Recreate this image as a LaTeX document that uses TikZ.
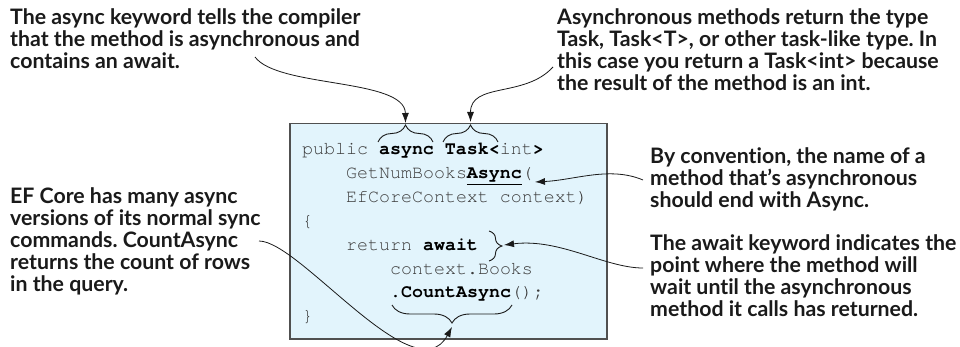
\documentclass[tikz,border=0pt]{standalone}
\usepackage{fontspec}
\setmainfont{Lato}[Ligatures={NoCommon}]
\setmonofont{texgyrecursor}[Extension=.otf, UprightFont=*-regular, BoldFont=*-bold]
\usetikzlibrary{positioning, arrows.meta, calc, decorations.pathreplacing}
\definecolor{codebg}{HTML}{E2F4FC}
\definecolor{codeframe}{HTML}{505050}
\definecolor{codegray}{HTML}{3C3C3C}
\definecolor{ink}{HTML}{1A1A1A}
\newcommand{\kw}[1]{\textcolor{black}{\bfseries #1}}
\frenchspacing
\tikzset{
  % Callout text
  note/.style={
    anchor=north west, align=left, inner sep=0pt, text=ink,
    font=\fontsize{21.3}{22}\selectfont\bfseries
  },
  % Code listing box
  codebox/.style={
    draw=codeframe, fill=codebg, line width=1.5pt, anchor=north west,
    minimum width=317pt, minimum height=215pt, inner sep=0pt
  },
  % One line of code
  code/.style={
    anchor=base west, inner sep=0pt, text=codegray,
    font=\fontsize{18.3}{23.8}\selectfont\ttfamily
  },
  % Curly brace marking a code fragment
  cbrace/.style={
    draw=ink, line width=0.9pt, decorate,
    decoration={brace, amplitude=#1}
  },
  cbrace/.default=17pt,
  % Arrow from a callout to the code
  callout/.style={
    draw=ink, line width=0.8pt, -{Latex[length=10pt, width=7pt]}
  }
}

\begin{document}
\begin{tikzpicture}[x=1pt, y=-1pt]
\useasboundingbox (0,0) rectangle (960,347);

% ============================================================
% CODE LISTING
% ============================================================
\node[codebox] (box) at (289,123) {};
\node[code] (l-pub)    at (302,155.0) {public \kw{async} \kw{Task<}int\kw{>}};
\node[code] (l-get)    at (346,178.8) {GetNumBooks\kw{\underline{Async}}(};
\node[code] (l-ctx)    at (346,202.6) {EfCoreContext context)};
\node[code] (l-open)   at (302,226.4) {\{};
\node[code] (l-ret)    at (346,250.2) {return \kw{await}};
\node[code] (l-books)  at (390,274.0) {context.Books};
\node[code] (l-count)  at (390,297.8) {\kw{.CountAsync}();};
\node[code] (l-close)  at (302,321.6) {\}};

% ============================================================
% CALLOUTS
% ============================================================
\node[note] (async-note) at (10,8.6) {The async keyword tells the compiler\\
  that the method is asynchronous and\\contains an await.};
\node[note] (task-note) at (557,8.6) {Asynchronous methods return the type\\
  Task, Task<T>, or other task-like type. In\\
  this case you return a Task<int> because\\
  the result of the method is an int.};
\node[note] (name-note) at (650,147.6) {By convention, the name of a\\
  method that's asynchronous\\should end with Async.};
\node[note] (await-note) at (650,234.6) {The await keyword indicates the\\
  point where the method will\\wait until the asynchronous\\
  method it calls has returned.};
\node[note] (count-note) at (10,187.6) {EF Core has many async\\
  versions of its normal sync\\commands. CountAsync\\
  returns the count of rows\\in the query.};

% ============================================================
% BRACES
% ============================================================
\coordinate (async-l) at (378,142);
\coordinate (async-r) at (433,142);
\coordinate (task-l)  at (443,142);
\coordinate (task-r)  at (498,142);
\coordinate (await-t) at (489,231);
\coordinate (await-b) at (489,261);
\coordinate (count-r) at (512,305);
\coordinate (count-l) at (392,305);

\draw[cbrace] (async-l) -- (async-r);
\draw[cbrace] (task-l) -- (task-r);
\draw[cbrace=13pt] (await-t) -- (await-b);
\draw[cbrace=18pt] (count-r) -- (count-l);

% ============================================================
% ARROWS
% ============================================================
\coordinate (async-from) at (255,57);
\coordinate (async-tip)  at (405.5,123);
\coordinate (task-from)  at (553,67);
\coordinate (task-tip)   at (470.5,122);
\coordinate (name-from)  at (643,180);
\coordinate (name-tip)   at (535,182);
\coordinate (await-from) at (643,268);
\coordinate (await-tip)  at (504,245);
\coordinate (count-from) at (259,241);
\coordinate (count-tip)  at (452,327);

\draw[callout] (async-from) .. controls (278,88) and (405,78) .. (async-tip);
\draw[callout] (task-from) .. controls (525,98) and (470.5,82) .. (task-tip);
\draw[callout] (name-from) .. controls (610,166) and (575,180) .. (name-tip);
\draw[callout] (await-from) .. controls (605,268) and (560,238) .. (await-tip);
\draw[callout] (count-from) .. controls (300,241) and (415,395) .. (count-tip);

\end{tikzpicture}
\end{document}
